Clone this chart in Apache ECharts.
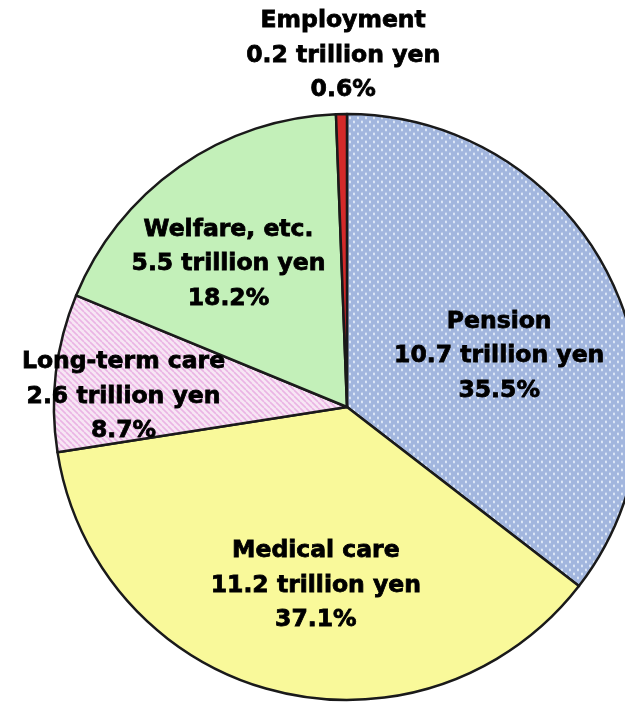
<!DOCTYPE html>
<html>
<head>
<meta charset="utf-8">
<script src="https://cdn.jsdelivr.net/npm/echarts@6/dist/echarts.min.js"></script>
<style>html,body{margin:0;padding:0;background:#fff;}#c{width:625px;height:704px;}</style>
</head>
<body>
<div id="c"></div>
<script>
var categories = ['Pension', 'Medical care', 'Long-term care', 'Welfare, etc.', 'Employment'];
var amounts = [10.7, 11.2, 2.6, 5.5, 0.2];
var shares = [35.5, 37.1, 8.7, 18.2, 0.6];

function dotPattern() {
  var c = document.createElement('canvas');
  c.width = 8; c.height = 8;
  var g = c.getContext('2d');
  g.fillStyle = '#a2b6de'; g.fillRect(0, 0, 8, 8);
  g.fillStyle = 'rgba(240,246,255,0.9)';
  g.beginPath(); g.ellipse(2, 2, 0.9, 1.4, 0, 0, Math.PI * 2); g.fill();
  g.beginPath(); g.ellipse(6, 6, 0.9, 1.4, 0, 0, Math.PI * 2); g.fill();
  return c;
}
function stripePattern() {
  var c = document.createElement('canvas');
  c.width = 6; c.height = 6;
  var g = c.getContext('2d');
  g.fillStyle = '#f7e6f4'; g.fillRect(0, 0, 6, 6);
  g.strokeStyle = '#eab4e4'; g.lineWidth = 1.6;
  for (var k = -6; k <= 12; k += 6) {
    g.beginPath(); g.moveTo(k, 0); g.lineTo(k + 6, 6); g.stroke();
  }
  return c;
}

var fills = [
  { image: dotPattern(), repeat: 'repeat' },
  '#f9f99a',
  { image: stripePattern(), repeat: 'repeat' },
  '#c3f0b9',
  '#d42a2a'
];
var offsets = [[18, 15], [6, 34], [-75, 7], [-33, -20], [-1, -202]];

var data = categories.map(function (name, i) {
  return {
    name: name,
    value: shares[i],
    amount: amounts[i],
    itemStyle: { color: fills[i] },
    label: { offset: offsets[i] }
  };
});

var chart = echarts.init(document.getElementById('c'));
chart.setOption({
  animation: false,
  series: [{
    type: 'pie',
    center: [347, 407],
    radius: [0, 293],
    startAngle: 90,
    clockwise: true,
    avoidLabelOverlap: false,
    itemStyle: { borderColor: '#1a1a1a', borderWidth: 2.5 },
    label: {
      show: true,
      position: 'inside',
      formatter: function (p) {
        return p.name + '\n' + p.data.amount.toFixed(1) + ' trillion yen\n' + p.value.toFixed(1) + '%';
      },
      fontFamily: 'DejaVu Sans',
      fontWeight: 'bold',
      fontSize: 23.5,
      lineHeight: 34.5,
      color: '#000',
      textBorderColor: '#000',
      textBorderWidth: 0.8,
      align: 'center'
    },
    labelLine: { show: false },
    emphasis: { disabled: true },
    data: data
  }]
});
</script>
</body>
</html>
